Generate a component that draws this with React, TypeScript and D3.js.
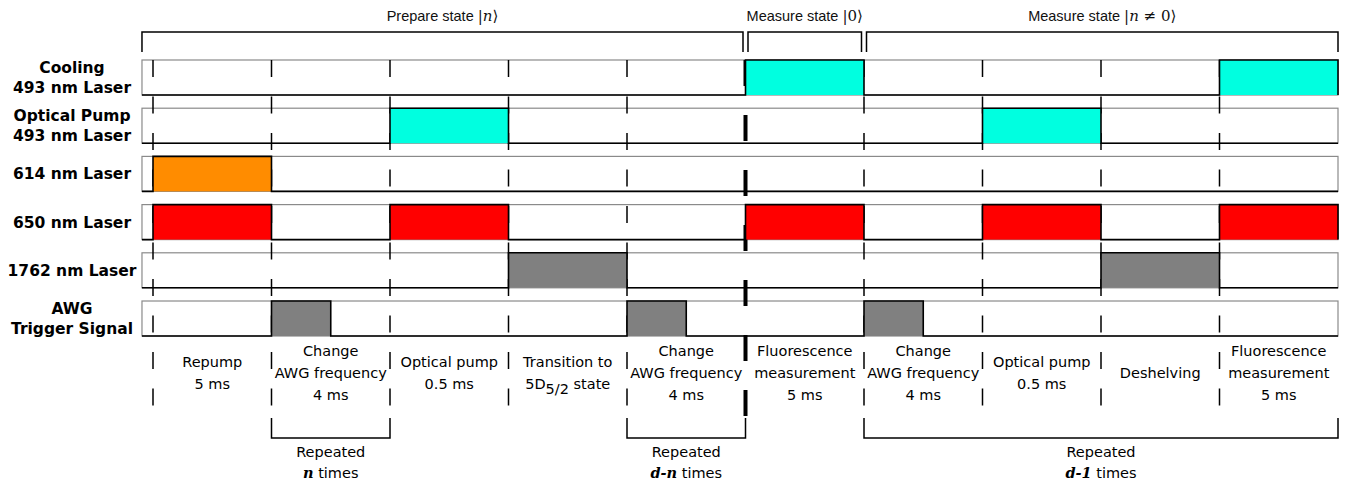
import React, { useEffect, useRef } from 'react';
import * as d3 from 'd3';

// Row labels (lines of each label)
const rowLabels: string[][] = [
  ['Cooling', '493 nm Laser'],
  ['Optical Pump', '493 nm Laser'],
  ['614 nm Laser'],
  ['650 nm Laser'],
  ['1762 nm Laser'],
  ['AWG', 'Trigger Signal'],
];

// Pulses per row, in step units [start, end]
const coolingPulses: [number, number][] = [[5, 6], [9, 10]];
const opticalPumpPulses: [number, number][] = [[2, 3], [7, 8]];
const laser614Pulses: [number, number][] = [[0, 1]];
const laser650Pulses: [number, number][] = [[0, 1], [2, 3], [5, 6], [7, 8], [9, 10]];
const laser1762Pulses: [number, number][] = [[3, 4], [8, 9]];
const awgPulses: [number, number][] = [[1, 1.5], [4, 4.5], [6, 6.5]];

const rowPulses = [coolingPulses, opticalPumpPulses, laser614Pulses, laser650Pulses, laser1762Pulses, awgPulses];
const rowColors = ['#00FFE0', '#00FFE0', '#FF8C00', '#FF0000', '#808080', '#808080'];

// Step descriptions under the chart (one entry per step)
const stepLabels: string[][] = [
  ['Repump', '5 ms'],
  ['Change', 'AWG frequency', '4 ms'],
  ['Optical pump', '0.5 ms'],
  ['Transition to', '5D5/2 state'],
  ['Change', 'AWG frequency', '4 ms'],
  ['Fluorescence', 'measurement', '5 ms'],
  ['Change', 'AWG frequency', '4 ms'],
  ['Optical pump', '0.5 ms'],
  ['Deshelving'],
  ['Fluorescence', 'measurement', '5 ms'],
];

// Top phase brackets
const phaseNames = ['Prepare state', 'Measure state', 'Measure state'];
const phaseKets = ['n', '0', 'n ≠ 0'];
const phaseRanges: [number, number][] = [[-0.09, 5], [5, 6], [6, 10]];

// Bottom repetition brackets
const repeatRanges: [number, number][] = [[1, 2], [4, 5], [6, 10]];
const repeatCounts = ['n', 'd-n', 'd-1'];

const SANS = 'DejaVu Sans, Verdana, sans-serif';
const ARIAL = 'Liberation Sans, Arial, sans-serif';
const SERIF = 'DejaVu Serif, Liberation Serif, serif';

const App: React.FC = () => {
  const svgRef = useRef<SVGSVGElement>(null);

  useEffect(() => {
    if (!svgRef.current) return;
    const svg = d3.select(svgRef.current);
    svg.selectAll('*').remove();

    const W = 1348;
    const H = 485;
    svg.attr('width', W).attr('height', H);

    const x = d3.scaleLinear().domain([0, 10]).range([153, 1338]);
    const boxLeft = x(-0.093);
    const y = d3
      .scaleBand<number>()
      .domain(d3.range(rowLabels.length))
      .range([60, 336])
      .paddingInner(0.274);
    const bw = y.bandwidth();

    // Row boxes
    rowLabels.forEach((_, i) => {
      svg.append('rect')
        .attr('x', boxLeft)
        .attr('y', y(i)!)
        .attr('width', x(10) - boxLeft)
        .attr('height', bw)
        .attr('fill', 'none')
        .attr('stroke', '#8a8a8a')
        .attr('stroke-width', 1.2);
    });

    // Dashed step boundaries
    const boundaries = d3.range(0, 10);
    boundaries.forEach(b => {
      const thick = b === 5;
      svg.append('line')
        .attr('x1', x(b))
        .attr('x2', x(b))
        .attr('y1', 60)
        .attr('y2', thick ? 416 : 406)
        .attr('stroke', '#000')
        .attr('stroke-width', thick ? 4 : 1.5)
        .attr('stroke-dasharray', thick ? '26 29' : '17 19.5');
    });

    // Pulses and signal traces
    const line = d3.line<[number, number]>();
    rowPulses.forEach((pulses, i) => {
      const top = y(i)!;
      const bottom = top + bw;
      pulses.forEach(([s, e]) => {
        svg.append('rect')
          .attr('x', x(s))
          .attr('y', top)
          .attr('width', x(e) - x(s))
          .attr('height', bw)
          .attr('fill', rowColors[i]);
      });
      const pts: [number, number][] = [[boxLeft, bottom]];
      pulses.forEach(([s, e]) => {
        pts.push([x(s), bottom], [x(s), top], [x(e), top], [x(e), bottom]);
      });
      pts.push([x(10), bottom]);
      svg.append('path')
        .attr('d', line(pts))
        .attr('fill', 'none')
        .attr('stroke', '#000')
        .attr('stroke-width', 1.6);
    });

    // Row labels
    rowLabels.forEach((lines, i) => {
      const top = y(i)!;
      const baselines = lines.length === 2 ? [top + 13, top + 33] : [top + 23];
      lines.forEach((t, k) => {
        svg.append('text')
          .attr('x', 72)
          .attr('y', baselines[k])
          .attr('text-anchor', 'middle')
          .style('font-family', SANS)
          .style('font-weight', 'bold')
          .style('font-size', '15.5px')
          .text(t);
      });
    });

    // Step labels
    stepLabels.forEach((lines, i) => {
      const cx = (x(i) + x(i + 1)) / 2;
      lines.forEach((t, k) => {
        const by = 378 + (k - (lines.length - 1) / 2) * 22;
        const txt = svg.append('text')
          .attr('x', cx)
          .attr('y', by)
          .attr('text-anchor', 'middle')
          .style('font-family', SANS)
          .style('font-size', '14.5px');
        if (t.startsWith('5D5/2')) {
          txt.append('tspan').text('5D');
          txt.append('tspan').attr('dy', 5).text('5/2');
          txt.append('tspan').attr('dy', -5).text(' state');
        } else {
          txt.text(t);
        }
      });
    });

    // Top phase brackets
    phaseRanges.forEach(([a, b], i) => {
      const x1 = i === 0 ? boxLeft : x(a) + 2.5;
      const x2 = i === phaseRanges.length - 1 ? x(b) : x(b) - 2.5;
      svg.append('path')
        .attr('d', line([[x1, 52], [x1, 32], [x2, 32], [x2, 52]]))
        .attr('fill', 'none')
        .attr('stroke', '#000')
        .attr('stroke-width', 1.5);
      const t = svg.append('text')
        .attr('x', (x1 + x2) / 2)
        .attr('y', 21)
        .attr('text-anchor', 'middle')
        .style('font-family', ARIAL)
        .style('font-size', '14.5px')
        .style('fill', '#111');
      t.append('tspan').text(phaseNames[i] + ' ');
      t.append('tspan').style('font-family', SERIF).style('font-size', '15px').text('|');
      phaseKets[i].split(' ').forEach((part, k) => {
        const isNum = /^[0-9]$/.test(part);
        t.append('tspan')
          .style('font-family', SERIF)
          .style('font-size', '15px')
          .style('font-style', isNum || part === '≠' ? 'normal' : 'italic')
          .text((k > 0 ? ' ' : '') + part);
      });
      t.append('tspan').style('font-family', SERIF).style('font-size', '15px').text('⟩');
    });

    // Bottom repetition brackets
    repeatRanges.forEach(([a, b], i) => {
      const x1 = x(a);
      const x2 = x(b);
      svg.append('path')
        .attr('d', line([[x1, 418], [x1, 438], [x2, 438], [x2, 418]]))
        .attr('fill', 'none')
        .attr('stroke', '#000')
        .attr('stroke-width', 1.5);
      const cx = (x1 + x2) / 2;
      svg.append('text')
        .attr('x', cx)
        .attr('y', 457)
        .attr('text-anchor', 'middle')
        .style('font-family', SANS)
        .style('font-size', '14.5px')
        .text('Repeated');
      const t = svg.append('text')
        .attr('x', cx)
        .attr('y', 478)
        .attr('text-anchor', 'middle')
        .style('font-family', SANS)
        .style('font-size', '14.5px');
      t.append('tspan')
        .style('font-family', SERIF)
        .style('font-style', 'italic')
        .style('font-weight', 'bold')
        .text(repeatCounts[i]);
      t.append('tspan').text(' times');
    });
  }, []);

  return (
    <svg ref={svgRef} style={{ position: 'absolute', left: 0, top: 0, background: '#fff' }}></svg>
  );
};

export default App;
